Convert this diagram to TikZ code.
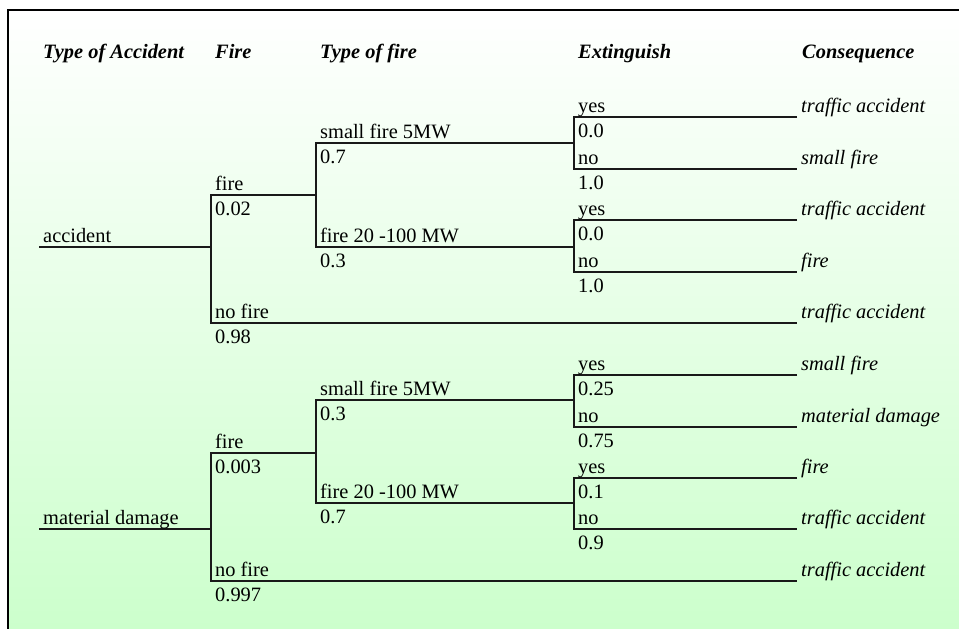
\documentclass[tikz,border=0pt]{standalone}
\usepackage{fontspec}
\setmainfont{Liberation Serif}
\definecolor{TreeBgGreen}{RGB}{204,255,204}
\newcommand{\treefont}{\fontsize{20.4}{24}\selectfont}

\begin{document}
\begin{tikzpicture}[x=1pt,y=-1pt,
  tline/.style={line width=1.4pt,black!90},
  lbl/.style={anchor=base west,inner sep=0pt,font=\treefont},
  prob/.style={anchor=north west,inner sep=0pt,font=\treefont},
  head/.style={anchor=base west,inner sep=0pt,font=\treefont\bfseries\itshape},
  cons/.style={anchor=base west,inner sep=0pt,font=\treefont\itshape}]
\useasboundingbox (0,0) rectangle (959,629);
\shade[top color=white,bottom color=TreeBgGreen] (8,10) rectangle (959,629);
\draw[line width=1.5pt] (8,629) -- (8,10) -- (959,10);
% column heads
\node[head] (hAcc) at (43,58) {Type of Accident};
\node[head] (hFire) at (215,58) {Fire};
\node[head] (hType) at (320,58) {Type of fire};
\node[head] (hExt) at (578,58) {Extinguish};
\node[head] (hCons) at (802,58) {Consequence};
% split points
\coordinate (acc) at (39,247);
\coordinate (accS) at (211,247);
\coordinate (accF) at (316,195);
\coordinate (accN) at (797,323);
\coordinate (mat) at (39,529);
\coordinate (matS) at (211,529);
\coordinate (matF) at (316,453);
\coordinate (matN) at (797,581);
\coordinate (e1) at (574,143);
\coordinate (e2) at (574,247);
\coordinate (e3) at (574,400);
\coordinate (e4) at (574,503);
% accident
\draw[tline] (acc) -- (accS);
\draw[tline] (accF) -| (accS) |- (accN);
\draw[tline] (e1) -| (accF) |- (e2);
\node[lbl] (accL) at (43,242) {accident};
\node[lbl] (accFL) at (215,190) {fire};
\node[prob] (accFP) at (215,202) {0.02};
\node[lbl] (accNL) at (215,318) {no fire};
\node[prob] (accNP) at (215,330) {0.98};
\node[cons] (accNC) at (801,318) {traffic accident};
\node[lbl] (e1L) at (320,138) {small fire 5MW};
\node[prob] (e1P) at (320,150) {0.7};
\node[lbl] (e2L) at (320,242) {fire 20 -100 MW};
\node[prob] (e2P) at (320,254) {0.3};
% material damage
\draw[tline] (mat) -- (matS);
\draw[tline] (matF) -| (matS) |- (matN);
\draw[tline] (e3) -| (matF) |- (e4);
\node[lbl] (matL) at (43,524) {material damage};
\node[lbl] (matFL) at (215,448) {fire};
\node[prob] (matFP) at (215,460) {0.003};
\node[lbl] (matNL) at (215,576) {no fire};
\node[prob] (matNP) at (215,588) {0.997};
\node[cons] (matNC) at (801,576) {traffic accident};
\node[lbl] (e3L) at (320,395) {small fire 5MW};
\node[prob] (e3P) at (320,407) {0.3};
\node[lbl] (e4L) at (320,498) {fire 20 -100 MW};
\node[prob] (e4P) at (320,510) {0.7};
% extinguish yes / no
\foreach \n/\yy/\ny/\py/\pn/\cy/\cn in %
{e1/117/169/0.0/1.0/traffic accident/small fire,
 e2/220/272/0.0/1.0/traffic accident/fire,
 e3/375/427/0.25/0.75/small fire/material damage,
 e4/478/529/0.1/0.9/fire/traffic accident} {
   \coordinate (\n-yes) at (797,\yy);
   \coordinate (\n-no) at (797,\ny);
   \draw[tline] (\n-yes) -| (\n) |- (\n-no);
   \node[lbl] (\n-yl) at (578,\yy-5) {yes};
   \node[prob] (\n-yp) at (578,\yy+7) {\py};
   \node[lbl] (\n-nl) at (578,\ny-5) {no};
   \node[prob] (\n-np) at (578,\ny+7) {\pn};
   \node[cons] (\n-yc) at (801,\yy-5) {\cy};
   \node[cons] (\n-nc) at (801,\ny-5) {\cn};
}
\end{tikzpicture}
\end{document}
